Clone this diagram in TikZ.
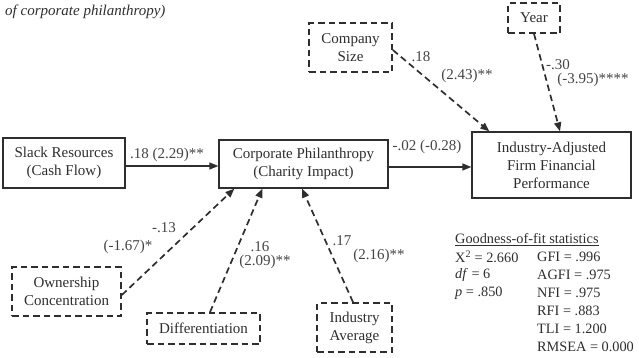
\documentclass[tikz,border=0pt]{standalone}
\usepackage{fontspec}
\setmainfont{Liberation Serif}
\usetikzlibrary{arrows.meta}
\definecolor{ink}{HTML}{2E2E2E}
\definecolor{lbl}{HTML}{444444}
\tikzset{
  solidbox/.style={draw=ink, line width=1.3pt, inner sep=0pt, align=center, text=ink},
  dashbox/.style={draw=ink, line width=1.7pt, dash pattern=on 6.5pt off 4pt, inner sep=0pt, align=center, text=ink},
  arr/.style={draw=ink, line width=1.3pt, -{Triangle[length=9pt,width=7pt]}},
  darr/.style={draw=ink, line width=1.7pt, dash pattern=on 6.5pt off 4pt, -{Triangle[length=9pt,width=7pt]}},
  lab/.style={inner sep=0pt, text=lbl},
  stat/.style={inner sep=0pt, anchor=west, text=ink, font=\fontsize{14.3}{17}\selectfont},
}
\begin{document}
\begin{tikzpicture}[x=1pt,y=-1pt,font=\fontsize{15}{18}\selectfont]
\useasboundingbox (0,0) rectangle (639,357);
% title
\node[inner sep=0pt, anchor=west, text=ink] (title) at (5,12) {\itshape of corporate philanthropy)};
% boxes
\node[solidbox, minimum width=122pt, minimum height=50pt] (slack) at (64,163) {Slack Resources\\(Cash Flow)};
\node[solidbox, minimum width=169pt, minimum height=48pt] (corp) at (303.5,164) {Corporate Philanthropy\\(Charity Impact)};
\node[solidbox, minimum width=159pt, minimum height=66pt] (ffp) at (551.5,165) {Industry-Adjusted\\Firm Financial\\Performance};
\node[dashbox, minimum width=83pt, minimum height=49pt] (size) at (350.5,47.5) {Company\\Size};
\node[dashbox, minimum width=52pt, minimum height=30pt] (year) at (534,18) {Year};
\node[dashbox, minimum width=109pt, minimum height=49pt] (own) at (66.5,291.5) {Ownership\\Concentration};
\node[dashbox, minimum width=113pt, minimum height=31pt] (diff) at (203.5,328.5) {Differentiation};
\node[dashbox, minimum width=75pt, minimum height=49pt] (indavg) at (354.5,327.5) {Industry\\Average};
% connectors
\coordinate (y1) at (0,166);
\coordinate (y2) at (0,167);
\draw[arr] (slack.east |- y1) -- (corp.west |- y1);
\draw[arr] (corp.east |- y2) -- (ffp.west |- y2);
\draw[darr] ([yshift=-2.5pt]size.east) -- ([xshift=18pt]ffp.north west);
\draw[darr] (year.south) -- ([xshift=8.5pt]ffp.north);
\draw[darr] ([yshift=-3.5pt]own.east) -- ([xshift=16pt]corp.south west);
\draw[darr] ([xshift=6.5pt]diff.north) -- ([xshift=44pt]corp.south west);
\draw[darr] ([xshift=-1.5pt]indavg.north) -- ([xshift=-1.5pt]corp.south);
% labels
\node[lab] (l1) at (167,155) {.18 (2.29)**};
\node[lab] (l2) at (427,147) {-.02 (-0.28)};
\node[lab] (l3a) at (421,57) {.18};
\node[lab] (l3b) at (467,76) {(2.43)**};
\node[lab] (l4a) at (558,65) {-.30};
\node[lab] (l4b) at (593,80) {(-3.95)****};
\node[lab] (l5a) at (164,228) {-.13};
\node[lab] (l5b) at (128,247) {(-1.67)*};
\node[lab] (l6a) at (260,247) {.16};
\node[lab] (l6b) at (265,262) {(2.09)**};
\node[lab] (l7a) at (342,241) {.17};
\node[lab] (l7b) at (379,256) {(2.16)**};
% statistics
\node[stat] (g) at (455,240) {\underline{Goodness-of-fit statistics}};
\node[stat] (s1) at (455,257) {X\textsuperscript{2} = 2.660};
\node[stat] (s2) at (455,275) {\textit{df} = 6};
\node[stat] (s3) at (455,293) {\textit{p} = .850};
\node[stat] (r1) at (537,257) {GFI = .996};
\node[stat] (r2) at (537,275) {AGFI = .975};
\node[stat] (r3) at (537,293) {NFI = .975};
\node[stat] (r4) at (537,311) {RFI = .883};
\node[stat] (r5) at (537,329) {TLI = 1.200};
\node[stat] (r6) at (537,347) {RMSEA = 0.000};
\end{tikzpicture}
\end{document}
